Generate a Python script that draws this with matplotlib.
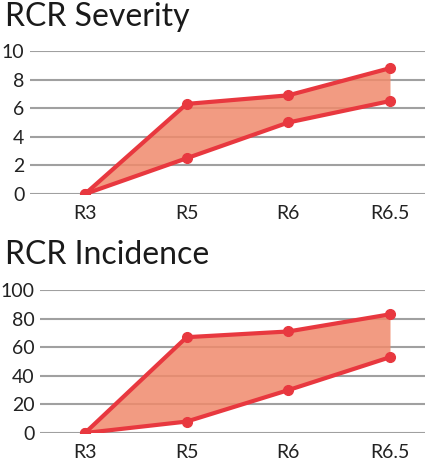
import matplotlib.pyplot as plt

cats = ['R3', 'R5', 'R6', 'R6.5']
sev_hi = [0, 6.3, 6.9, 8.8]
sev_lo = [0, 2.5, 5.0, 6.5]
inc_hi = [0, 67, 71, 83]
inc_lo = [0, 8, 30, 53]

plt.rcParams['font.family'] = ['Lato', 'DejaVu Sans']
W, H = 430, 465
fig = plt.figure(figsize=(W / 100, H / 100), dpi=100)

def panel(top, bottom, title, hi, lo, ymax, step, title_y, left):
    ax = fig.add_axes([left / W, 1 - bottom / H, (425 - left) / W, (bottom - top) / H])
    x = range(len(cats))
    ax.fill_between(x, lo, hi, color='#f08a6c', alpha=0.85, lw=0)
    ax.plot(x, hi, color='#e8383f', lw=3, marker='o', ms=7)
    ax.plot(x, lo, color='#e8383f', lw=3, marker='o', ms=7)
    # keep category positions: R3 at ~85px, R6.5 at ~390px
    ax.set_xlim(-(85 - left) / 101.7, 3 + 35 / 101.7)
    ax.set_ylim(0, ymax)
    ax.set_yticks(range(0, ymax + 1, step))
    ax.set_xticks(list(x))
    ax.set_xticklabels(cats)
    ax.grid(axis='y', color='#a0a0a0', lw=1.5)
    ax.set_axisbelow(True)
    for s in ax.spines.values():
        s.set_visible(False)
    ax.tick_params(length=0, labelsize=14, colors='#222222')
    ax.tick_params(axis='y', pad=4)
    ax.tick_params(axis='x', pad=8)
    fig.text(5 / W, 1 - title_y / H, title, fontsize=23, color='#1a1a1a', va='center')

panel(51, 194, 'RCR Severity', sev_hi, sev_lo, 10, 2, 17, 30)
panel(290, 433, 'RCR Incidence', inc_hi, inc_lo, 100, 20, 255, 40)

fig.savefig('out.png', dpi=100)
